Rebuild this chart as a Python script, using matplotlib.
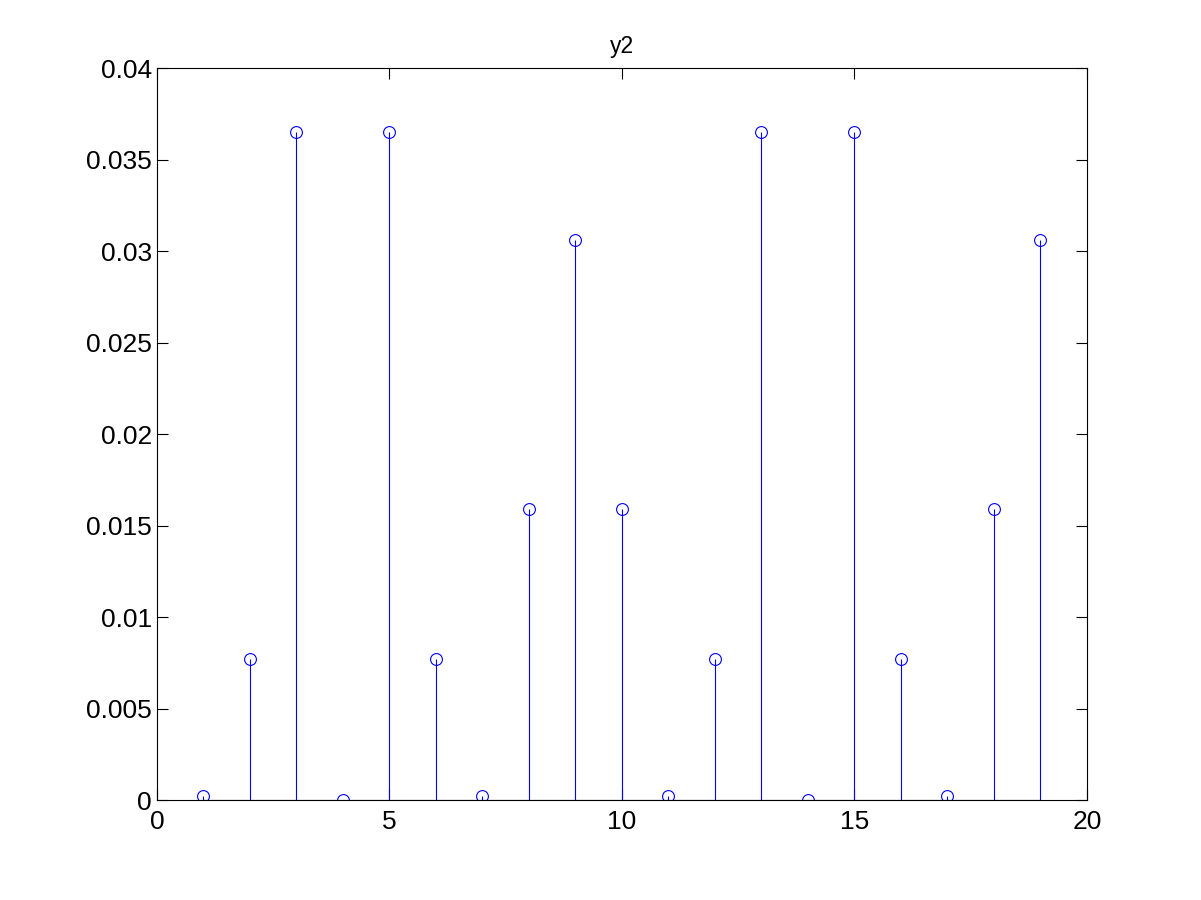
import numpy as np
import matplotlib
matplotlib.use("Agg")
import matplotlib.pyplot as plt

plt.rcParams['font.family'] = ['Liberation Sans', 'DejaVu Sans']

n = np.arange(1, 20)
y2 = [0.0002, 0.0077, 0.0365, 0.0, 0.0365, 0.0077, 0.0002, 0.0159, 0.0306, 0.0159,
      0.0002, 0.0077, 0.0365, 0.0, 0.0365, 0.0077, 0.0002, 0.0159, 0.0306]

fig = plt.figure(figsize=(12.01, 9), dpi=100)
ax = fig.add_axes([0.1307, 0.111, 0.7743, 0.8134])

ml, sl, bl = ax.stem(n, y2, linefmt='b-', markerfmt='bo', basefmt='k-')
ml.set_markerfacecolor('none')
ml.set_markersize(8.5)
ml.set_markeredgewidth(0.8)
sl.set_linewidth(0.8)
bl.set_linewidth(0.8)

ax.set_xlim(0, 20)
ax.set_ylim(0, 0.04)
ax.set_xticks([0, 5, 10, 15, 20])
ax.set_yticks(np.arange(0, 0.0401, 0.005))
ax.set_yticklabels(['0', '0.005', '0.01', '0.015', '0.02', '0.025', '0.03', '0.035', '0.04'])
ax.tick_params(direction='in', top=True, right=True, labelsize=19, length=8, width=0.8)
ax.tick_params(axis='x', pad=7)
for s in ax.spines.values():
    s.set_linewidth(0.8)
ax.set_title('y2', fontsize=16.5, pad=11)

fig.savefig('out.png', dpi=100)
